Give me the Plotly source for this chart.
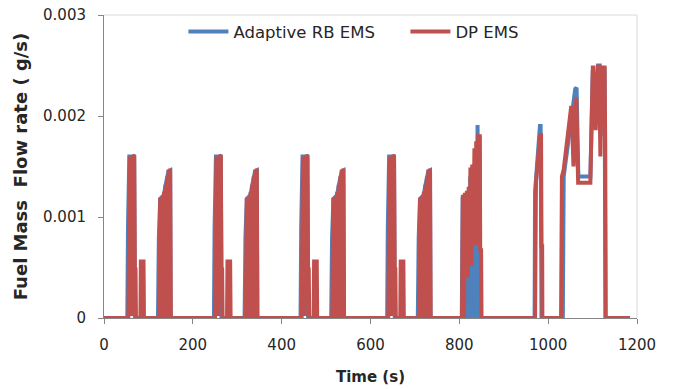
import plotly.graph_objects as go

# ---------------- data (time in s, fuel mass flow rate in g/s) ----------------
# DP EMS (red)
dp_time = [
    0,
    55, 58, 62, 65, 68, 69.5, 71, 72, 82, 83, 89, 90,
    124, 126.5, 129, 131, 133, 135, 137, 138.5, 140.5, 142, 144, 145.5, 147.5, 149, 150.5,
    250, 253, 257, 260, 263, 264.5, 266, 267, 277, 278, 284, 285,
    319, 321.5, 324, 326, 328, 330, 332, 333.5, 335.5, 337, 339, 340.5, 342.5, 344, 345.5,
    445, 448, 452, 455, 458, 459.5, 461, 462, 472, 473, 479, 480,
    514, 516.5, 519, 521, 523, 525, 527, 528.5, 530.5, 532, 534, 535.5, 537.5, 539, 540.5,
    640, 643, 647, 650, 653, 654.5, 656, 657, 667, 668, 674, 675,
    709, 711.5, 714, 716, 718, 720, 722, 723.5, 725.5, 727, 729, 730.5, 732.5, 734, 735.5,
    806, 808, 810.5, 812.5, 815, 817, 819, 821, 823, 825, 827, 829, 831, 832.5,
    834, 836, 838, 840, 842, 844, 846, 847, 849, 850,
    970.5, 972.5, 982, 984, 985, 986.5, 987,
    1029, 1031, 1035, 1052, 1054, 1057, 1060, 1063.5, 1065, 1067.5, 1095,
    1100.5, 1102, 1107, 1112, 1115, 1117.5, 1121, 1127, 1128.5, 1129.5,
    1184,
]
dp_fuel = [
    0,
    0, 0.0016, 0.00002, 0.00161, 0.0016, 0.00048, 0.00048, 0, 0, 0.00056, 0.00056, 0,
    0, 0.00119, 0, 0.0012, 0, 0.00125, 0, 0.00132, 0, 0.0014, 0, 0.00147, 0.0001, 0.00148, 0,
    0, 0.0016, 0.00002, 0.00161, 0.0016, 0.00048, 0.00048, 0, 0, 0.00056, 0.00056, 0,
    0, 0.00119, 0, 0.0012, 0, 0.00125, 0, 0.00132, 0, 0.0014, 0, 0.00147, 0.0001, 0.00148, 0,
    0, 0.0016, 0.00002, 0.00161, 0.0016, 0.00048, 0.00048, 0, 0, 0.00056, 0.00056, 0,
    0, 0.00119, 0, 0.0012, 0, 0.00125, 0, 0.00132, 0, 0.0014, 0, 0.00147, 0.0001, 0.00148, 0,
    0, 0.0016, 0.00002, 0.00161, 0.0016, 0.00048, 0.00048, 0, 0, 0.00056, 0.00056, 0,
    0, 0.00119, 0, 0.0012, 0, 0.00125, 0, 0.00132, 0, 0.0014, 0, 0.00147, 0.0001, 0.00148, 0,
    0, 0.00122, 0, 0.00124, 0.0004, 0.00126, 0.0004, 0.0013, 0.00052, 0.00149, 0.00052, 0.0015, 0.0015, 0.00115,
    0.00168, 0.00072, 0.00175, 0.00072, 0.00182, 0.00072, 0.00182, 0.00067, 0.00067, 0,
    0, 0.00134, 0.00181, 0.00181, 0.00071, 0.00071, 0,
    0, 0.0014, 0.00147, 0.0021, 0.0019, 0.0015, 0.0019, 0.00218, 0.0018, 0.00134, 0.00134,
    0.00248, 0.00248, 0.00186, 0.00249, 0.00249, 0.0016, 0.00248, 0.00248, 0.0017, 0,
    0,
]

# Adaptive RB EMS (blue)
rb_time = [
    0,
    52.5, 54, 57, 68, 69.5,
    121.5, 123.5, 126.5, 135, 138, 145, 149, 150,
    247.5, 249, 252, 263, 264.5,
    316.5, 318.5, 321.5, 330, 333, 340, 344, 345,
    442.5, 444, 447, 458, 459.5,
    511.5, 513.5, 516.5, 525, 528, 535, 539, 540,
    637.5, 639, 642, 653, 654.5,
    706.5, 708.5, 711.5, 720, 723, 730, 734, 735,
    805.5, 807.5, 810, 812, 814.5, 816.5, 818.5, 820.5, 822.5, 824.5, 826.5, 828.5, 830,
    834.5, 836.5, 838.5, 841, 843, 845.5, 847,
    969.5, 970.5, 981.5, 983, 985,
    1033, 1035, 1037, 1061, 1064, 1068, 1095,
    1100.5, 1106, 1112.5, 1116, 1118, 1121.5, 1127, 1129,
    1184,
]
rb_fuel = [
    0,
    0, 0.0009, 0.0016, 0.0016, 0,
    0, 0.0008, 0.00118, 0.00122, 0.0013, 0.00145, 0.00146, 0,
    0, 0.0009, 0.0016, 0.0016, 0,
    0, 0.0008, 0.00118, 0.00122, 0.0013, 0.00145, 0.00146, 0,
    0, 0.0009, 0.0016, 0.0016, 0,
    0, 0.0008, 0.00118, 0.00122, 0.0013, 0.00145, 0.00146, 0,
    0, 0.0009, 0.0016, 0.0016, 0,
    0, 0.0008, 0.00118, 0.00122, 0.0013, 0.00145, 0.00146, 0,
    0, 0.0012, 0, 0.0012, 0, 0.0012, 0, 0.0012, 0, 0.0014, 0, 0.0014, 0,
    0, 0.0016, 0, 0.00191, 0.0007, 0.0018, 0,
    0, 0.00125, 0.0019, 0.0019, 0,
    0, 0.0014, 0.00147, 0.00227, 0.00228, 0.0014, 0.0014,
    0.00245, 0.0019, 0.0025, 0.0025, 0.0018, 0.00246, 0.00246, 0,
    0,
]

x_ticks = [0, 200, 400, 600, 800, 1000, 1200]
y_ticks = [0, 0.001, 0.002, 0.003]
y_tick_text = ["0", "0.001", "0.002", "0.003"]

BLUE = "#4F81BD"
RED = "#C0504D"
AXIS = "#868686"
FONT = "DejaVu Sans"

fig = go.Figure()
fig.add_trace(go.Scatter(x=rb_time, y=rb_fuel, mode="lines", name="Adaptive RB EMS",
                         line=dict(color=BLUE, width=4, simplify=False), cliponaxis=False))
fig.add_trace(go.Scatter(x=dp_time, y=dp_fuel, mode="lines", name="DP EMS",
                         line=dict(color=RED, width=4, simplify=False), cliponaxis=False))

fig.update_layout(
    width=675, height=389,
    margin=dict(l=104, r=38, t=15, b=71, autoexpand=False),
    paper_bgcolor="white", plot_bgcolor="white",
    font=dict(family=FONT, size=15, color="#262626"),
    showlegend=True,
    legend=dict(orientation="h", x=0.149, xanchor="left", y=0.945, yanchor="middle",
                bgcolor="rgba(0,0,0,0)", font=dict(size=16.5), itemwidth=40,
                entrywidth=167, entrywidthmode="pixels", traceorder="normal"),
    shapes=[
        dict(type="line", xref="paper", yref="paper", x0=0, x1=1, y0=1, y1=1,
             line=dict(color="#D9D9D9", width=1)),
        dict(type="line", xref="paper", yref="paper", x0=1, x1=1, y0=0, y1=1,
             line=dict(color="#D9D9D9", width=1)),
    ],
)
fig.update_xaxes(range=[0, 1200], tickvals=x_ticks, showgrid=False, zeroline=False,
                 showline=True, linecolor=AXIS, linewidth=1, ticks="outside", ticklen=5,
                 tickcolor=AXIS, layer="below traces", ticklabelstandoff=8,
                 title=dict(text="<b>Time (s)</b>", font=dict(size=15), standoff=18))
fig.update_yaxes(range=[0, 0.003], tickvals=y_ticks, ticktext=y_tick_text, showgrid=False,
                 zeroline=False, showline=True, linecolor=AXIS, linewidth=1, ticks="outside",
                 ticklen=5, tickcolor=AXIS, layer="below traces", ticklabelstandoff=9,
                 title=dict(text="<b>Fuel Mass  Flow rate ( g/s)</b>", font=dict(size=18), standoff=10))

fig.write_html("out.html")
